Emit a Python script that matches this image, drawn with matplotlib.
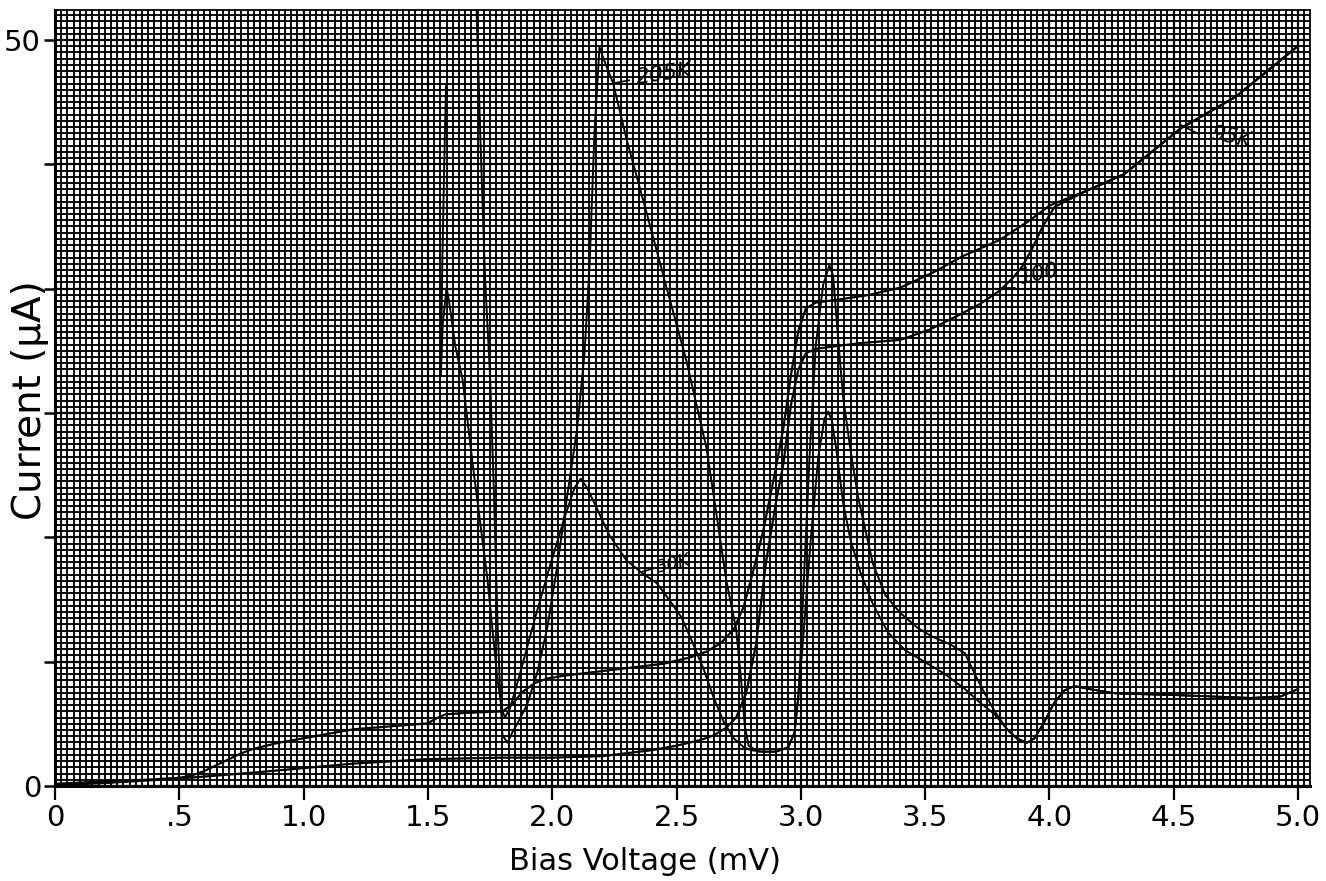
import numpy as np
import matplotlib
matplotlib.use("Agg")
import matplotlib.pyplot as plt
from matplotlib.ticker import MultipleLocator, FixedLocator, FixedFormatter

nan = np.nan

# ---- data ----
# 205K curve (large oscillations); gap where the trace runs off the top
x_205 = [1.553, 1.558, 1.566, 1.573, nan, 1.695, 1.71, 1.73, 1.75, 1.765, 1.78, 1.79, 1.80, 1.82,
         1.84, 1.87, 1.90, 1.94, 1.98, 2.02, 2.06, 2.10, 2.13, 2.15, 2.17, 2.19, 2.21, 2.245,
         2.30, 2.38, 2.46, 2.54, 2.57, 2.62, 2.66, 2.70, 2.74, 2.76, 2.775, 2.79, 2.83, 2.90,
         2.95, 2.975, 2.99, 3.00, 3.01, 3.035, 3.06, 3.09, 3.115, 3.13, 3.15, 3.17, 3.20, 3.23,
         3.29, 3.34, 3.40, 3.47, 3.53, 3.60, 3.66, 3.70, 3.74, 3.78, 3.83, 3.87, 3.91, 3.94,
         3.98, 4.02, 4.06, 4.10, 4.16, 4.27, 4.50, 4.81, 4.93, 5.00]
y_205 = [29.0, 35.0, 42.0, 47.0, nan, 52.5, 44.0, 34.0, 27.5, 20.0, 11.0, 6.5, 3.4, 2.9,
         3.6, 4.5, 5.5, 7.6, 10.6, 14.7, 19.4, 23.9, 29.0, 34.8, 43.8, 49.5, 48.6, 47.1,
         43.3, 38.4, 33.4, 28.5, 26.3, 22.7, 18.3, 13.8, 10.5, 7.1, 4.0, 2.7, 2.3, 2.3,
         2.6, 3.6, 6.0, 9.0, 13.0, 22.0, 29.5, 33.6, 34.9, 34.2, 30.0, 26.1, 22.5, 19.4,
         14.9, 12.8, 11.6, 10.6, 10.0, 9.5, 8.9, 7.5, 6.2, 5.0, 3.8, 3.2, 2.9, 3.2,
         4.3, 5.6, 6.4, 6.7, 6.5, 6.2, 6.1, 5.9, 6.0, 6.5]

# 30K curve (smaller oscillations)
x_30 = [1.552, 1.56, 1.575, 1.585, 1.61, 1.64, 1.68, 1.74, 1.78, 1.80, 1.81, 1.83, 1.87, 1.93,
        1.99, 2.05, 2.09, 2.115, 2.14, 2.18, 2.23, 2.30, 2.36, 2.42, 2.47, 2.52, 2.56, 2.61,
        2.65, 2.69, 2.73, 2.77, 2.80, 2.85, 2.90, 2.95, 2.975, 2.99, 3.01, 3.04, 3.07, 3.095,
        3.11, 3.125, 3.145, 3.17, 3.20, 3.24, 3.29, 3.35, 3.42, 3.50, 3.58, 3.66, 3.72, 3.78,
        3.83, 3.88, 3.91, 3.94, 3.98, 4.02, 4.06, 4.10, 4.16, 4.27, 4.50, 4.81, 4.93, 5.00]
y_30 = [27.5, 31.0, 33.4, 32.5, 29.5, 27.2, 21.6, 13.8, 7.1, 5.0, 4.6, 5.2, 7.5, 11.2,
        14.7, 18.0, 20.0, 20.6, 20.0, 18.6, 16.8, 15.1, 14.3, 13.6, 12.5, 11.3, 9.8, 7.8,
        5.9, 4.3, 3.2, 2.6, 2.4, 2.3, 2.3, 2.6, 3.6, 6.0, 10.0, 16.5, 22.0, 24.6,
        25.1, 24.5, 22.3, 19.0, 16.5, 14.3, 12.2, 10.3, 9.1, 8.3, 7.5, 6.5, 5.6, 4.8,
        3.8, 3.0, 2.9, 3.2, 4.3, 5.6, 6.4, 6.7, 6.5, 6.2, 6.1, 5.9, 6.0, 6.5]

# 95K curve (stepped, upper plateau, rises to top right)
x_95 = [0.0, 0.2, 0.4, 0.5, 0.55, 0.6, 0.65, 0.7, 0.75, 0.8, 0.9, 1.0, 1.1, 1.2, 1.35, 1.5,
        1.53, 1.57, 1.65, 1.8, 1.84, 1.88, 1.93, 1.98, 2.05, 2.15, 2.3, 2.45, 2.55, 2.62,
        2.68, 2.73, 2.77, 2.81, 2.85, 2.89, 2.93, 2.96, 2.99, 3.02, 3.06, 3.15, 3.27, 3.40,
        3.53, 3.65, 3.80, 3.92, 4.00, 4.15, 4.30, 4.53, 4.75, 5.0]
y_95 = [0.15, 0.3, 0.45, 0.55, 0.7, 1.0, 1.4, 1.8, 2.2, 2.5, 2.9, 3.2, 3.5, 3.8, 4.0, 4.2,
        4.5, 4.8, 4.9, 5.0, 5.5, 6.3, 6.9, 7.2, 7.4, 7.6, 7.9, 8.2, 8.6, 9.0,
        9.6, 10.5, 12.0, 14.5, 17.2, 20.5, 24.0, 27.5, 30.5, 32.0, 32.4, 32.6, 32.9, 33.4,
        34.4, 35.5, 36.6, 37.9, 38.9, 39.9, 41.0, 44.1, 46.2, 49.6]

# 100 curve (lowest before the gap, lower plateau)
x_100 = [0.0, 0.2, 0.5, 0.8, 1.0, 1.2, 1.5, 1.8, 2.0, 2.2, 2.4, 2.5, 2.6, 2.65, 2.7, 2.74,
         2.78, 2.82, 2.86, 2.90, 2.93, 2.96, 2.99, 3.02, 3.06, 3.15, 3.25, 3.40, 3.52, 3.64,
         3.72, 3.80, 3.85, 3.89, 3.93, 3.97, 4.02, 4.15, 4.30, 4.53, 4.75, 5.0]
y_100 = [0.05, 0.2, 0.5, 0.9, 1.2, 1.5, 1.8, 1.9, 1.9, 2.0, 2.4, 2.7, 3.1, 3.4, 3.9, 4.6,
         6.2, 9.5, 15.0, 19.0, 21.6, 25.5, 27.9, 29.0, 29.3, 29.5, 29.7, 29.9, 30.6, 31.6,
         32.3, 33.2, 34.0, 34.8, 36.0, 37.4, 38.8, 39.9, 41.0, 44.1, 46.2, 49.6]

x_ticks = [0, 0.5, 1.0, 1.5, 2.0, 2.5, 3.0, 3.5, 4.0, 4.5, 5.0]
x_tick_labels = ["0", ".5", "1.0", "1.5", "2.0", "2.5", "3.0", "3.5", "4.0", "4.5", "5.0"]
y_ticks = [0, 50 / 6, 100 / 6, 25, 200 / 6, 250 / 6, 50]
y_tick_labels = ["0", "", "", "", "", "", "50"]

# curve labels: text, text position, leader start, leader end, rotation, size
labels = [("205K", (2.45, 47.7), (2.245, 47.1), (2.31, 47.3), 8, 16),
          ("30K", (2.49, 14.9), (2.35, 14.3), (2.41, 14.6), 14, 13),
          ("95K", (4.73, 43.5), (4.53, 44.3), (4.60, 43.7), -12, 15),
          ("100", (3.96, 34.3), (3.80, 33.4), (3.86, 33.4), 12, 15)]

# ---- figure ----
W, H = 1326, 881
fig = plt.figure(figsize=(W / 100, H / 100), dpi=100)
x0, x1, ytop, yb = 55, 1310, 10, 786
ax = fig.add_axes([x0 / W, (H - yb) / H, (x1 - x0) / W, (yb - ytop) / H])

xmax = (x1 - x0) / 248.6
ymax = (yb - ytop) / 14.92
ax.set_xlim(0, xmax)
ax.set_ylim(0, ymax)

# graph paper
ax.xaxis.set_minor_locator(MultipleLocator(0.025))
ax.yaxis.set_minor_locator(MultipleLocator(50 / 120))
ax.grid(which='minor', color='black', lw=1.35)
ax.grid(which='major', color='black', lw=1.6)
ax.set_axisbelow(True)
ax.tick_params(which='minor', length=0)

ax.xaxis.set_major_locator(FixedLocator(x_ticks))
ax.xaxis.set_major_formatter(FixedFormatter(x_tick_labels))
ax.yaxis.set_major_locator(FixedLocator(y_ticks))
ax.yaxis.set_major_formatter(FixedFormatter(y_tick_labels))
ax.tick_params(axis='x', which='major', length=10, width=1.6, direction='out',
               labelsize=21, pad=3)
ax.tick_params(axis='y', which='major', length=8, width=1.8, direction='out',
               labelsize=21, pad=2)

for s in ['left', 'bottom']:
    ax.spines[s].set_linewidth(2.2)
for s in ['top', 'right']:
    ax.spines[s].set_linewidth(1.3)

ax.plot(x_205, y_205, color='black', lw=1.4, zorder=3)
ax.plot(x_30, y_30, color='black', lw=1.4, zorder=3)
ax.plot(x_95, y_95, color='black', lw=1.6, zorder=3)
ax.plot(x_100, y_100, color='black', lw=1.6, zorder=3)

for txt, pos, a, b, rot, fs in labels:
    ax.plot([a[0], b[0]], [a[1], b[1]], color='black', lw=1.2, zorder=3)
    ax.text(pos[0], pos[1], txt, fontsize=fs, style='italic', rotation=rot,
            ha='center', va='center', zorder=4)

ax.set_xlabel("Bias Voltage (mV)", fontsize=22)
ax.set_ylabel("Current (\u03bcA)", fontsize=28)
ax.xaxis.set_label_coords((645 - x0) / (x1 - x0), -(862 - yb) / (yb - ytop))
ax.yaxis.set_label_coords(-(x0 - 30) / (x1 - x0), (yb - 400) / (yb - ytop))
ax.xaxis.label.set_va('center')
ax.yaxis.label.set_va('center')

fig.savefig("out.png", dpi=100, facecolor='white')
